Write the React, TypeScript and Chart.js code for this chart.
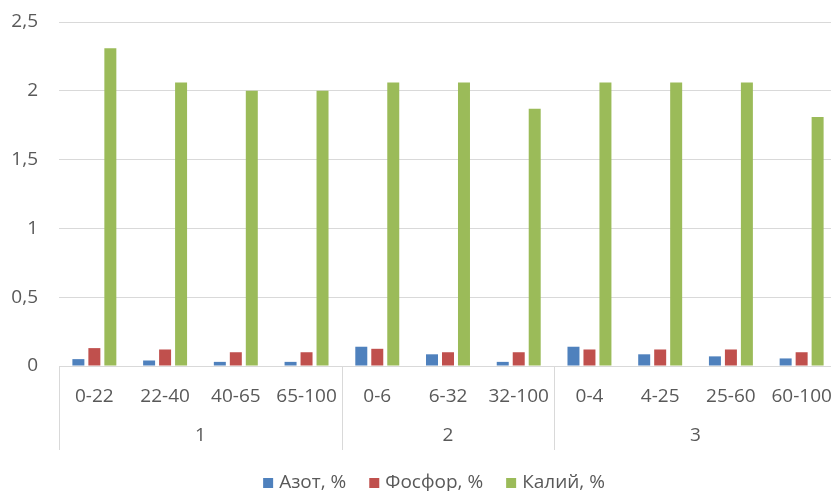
import React, { useEffect, useRef } from "react";
import { Chart, registerables } from "chart.js";

Chart.register(...registerables);

// Soil depth layers (cm), grouped by profile number
const depths = ["0-22", "22-40", "40-65", "65-100", "0-6", "6-32", "32-100", "0-4", "4-25", "25-60", "60-100"];
const profiles = ["1", "2", "3"];
const profileSizes = [4, 3, 4];

const azot = [0.05, 0.04, 0.03, 0.03, 0.14, 0.085, 0.03, 0.14, 0.085, 0.07, 0.055];
const fosfor = [0.13, 0.12, 0.1, 0.1, 0.125, 0.1, 0.1, 0.12, 0.12, 0.12, 0.1];
const kaliy = [2.31, 2.06, 2.0, 2.0, 2.06, 2.06, 1.87, 2.06, 2.06, 2.06, 1.81];

const seriesNames = ["Азот, %", "Фосфор, %", "Калий, %"];
const seriesColors = ["#4F81BD", "#C0504D", "#9BBB59"];

const yTicks = [0, 0.5, 1, 1.5, 2, 2.5];

const FONT = "'Open Sans', sans-serif";
const TEXT = "#595959";
const LINE = "#D9D9D9";

const groupPlugin = {
  id: "profileGroups",
  afterDraw(chart: any) {
    const ctx = chart.ctx;
    const xs = chart.scales.x;
    const half = (xs.getPixelForValue(1) - xs.getPixelForValue(0)) / 2;
    const base = xs.top;
    ctx.save();
    ctx.strokeStyle = LINE;
    ctx.lineWidth = 1;
    ctx.fillStyle = TEXT;
    ctx.font = `19px ${FONT}`;
    ctx.textAlign = "center";
    ctx.textBaseline = "middle";
    let start = 0;
    const edges: number[] = [xs.getPixelForValue(0) - half];
    profiles.forEach((p, gi) => {
      const end = start + profileSizes[gi] - 1;
      const left = xs.getPixelForValue(start) - half;
      const right = xs.getPixelForValue(end) + half;
      edges.push(right);
      ctx.fillText(p, (left + right) / 2, base + 70);
      start = end + 1;
    });
    edges.forEach((ex) => {
      const px = Math.round(ex) + 0.5;
      ctx.beginPath();
      ctx.moveTo(px, base);
      ctx.lineTo(px, base + 84);
      ctx.stroke();
    });

    // legend
    ctx.font = `19px ${FONT}`;
    ctx.textAlign = "left";
    const box = 10;
    const gapBox = 6;
    const gapItem = 23;
    const widths = seriesNames.map((n) => ctx.measureText(n).width);
    const total = widths.reduce((a, w) => a + box + gapBox + w, 0) + gapItem * (seriesNames.length - 1);
    let lx = 434 - total / 2;
    const ly = 483;
    seriesNames.forEach((n, i) => {
      ctx.fillStyle = seriesColors[i];
      ctx.fillRect(lx, ly - box / 2, box, box);
      ctx.fillStyle = TEXT;
      ctx.fillText(n, lx + box + gapBox, ly);
      lx += box + gapBox + widths[i] + gapItem;
    });
    ctx.restore();
  },
};

export default function App() {
  const ref = useRef<HTMLCanvasElement>(null);

  useEffect(() => {
    if (!ref.current) return;
    const series = [azot, fosfor, kaliy];
    const chart = new Chart(ref.current, {
      type: "bar",
      data: {
        labels: depths,
        datasets: series.map((d, i) => ({
          label: seriesNames[i],
          data: d,
          backgroundColor: seriesColors[i],
          borderWidth: 0,
          categoryPercentage: 0.678,
          barPercentage: 0.75,
        })),
      },
      options: {
        animation: false,
        responsive: false,
        maintainAspectRatio: false,
        layout: { padding: { top: 22, right: 8, left: 0, bottom: 0 } },
        plugins: { legend: { display: false }, tooltip: { enabled: false } },
        scales: {
          x: {
            grid: { display: false },
            border: { display: true, color: LINE, width: 1 },
            ticks: { color: TEXT, font: { family: FONT, size: 19 }, padding: 11, maxRotation: 0, autoSkip: false },
            afterFit(scale: any) {
              scale.height = 125;
            },
          },
          y: {
            min: 0,
            max: 2.5,
            afterBuildTicks(scale: any) {
              scale.ticks = yTicks.map((v) => ({ value: v }));
            },
            grid: { color: LINE, drawTicks: false },
            border: { display: false },
            ticks: {
              color: TEXT,
              font: { family: FONT, size: 19 },
              padding: 21,
              callback: (v: any) => String(v).replace(".", ","),
            },
            afterFit(scale: any) {
              scale.width = 59;
              scale.paddingTop = 0;
              scale.paddingBottom = 0;
            },
          },
        },
      },
      plugins: [groupPlugin],
    });
    return () => chart.destroy();
  }, []);

  return (
    <div style={{ position: "fixed", left: 0, top: 0, width: 831, height: 491, overflow: "hidden", background: "#fff" }}>
      <canvas ref={ref} width={845} height={491} style={{ display: "block" }} />
    </div>
  );
}
